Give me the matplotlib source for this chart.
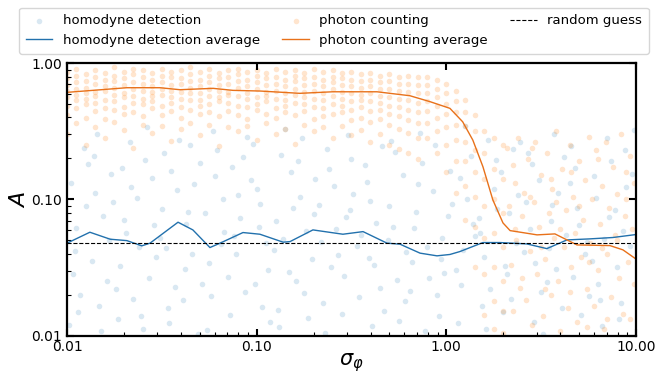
import numpy as np
import matplotlib
matplotlib.use("Agg")
import matplotlib.pyplot as plt
from matplotlib.ticker import FormatStrFormatter

# ---- data (log10 of sigma_phi and A) ----
# homodyne detection scatter cloud
hd_lx = [-1.99, -1.97, -1.95, -1.98, -1.93, -1.91, -1.96, -1.90, -1.94, -1.89,
         -1.87, -1.85, -1.83, -1.86, -1.81, -1.79, -1.84, -1.78, -1.82, -1.77,
         -1.74, -1.76, -1.71, -1.73, -1.69, -1.67, -1.72, -1.66, -1.70, -1.65,
         -1.63, -1.61, -1.59, -1.62, -1.57, -1.55, -1.60, -1.54, -1.58, -1.53,
         -1.51, -1.49, -1.46, -1.50, -1.45, -1.43, -1.48, -1.42, -1.47, -1.41,
         -1.39, -1.37, -1.35, -1.38, -1.33, -1.31, -1.36, -1.30, -1.34, -1.29,
         -1.27, -1.25, -1.22, -1.26, -1.21, -1.19, -1.24, -1.18, -1.23, -1.17,
         -1.15, -1.13, -1.11, -1.14, -1.09, -1.07, -1.12, -1.06, -1.10, -1.05,
         -1.03, -1.01, -0.98, -1.02, -0.97, -0.95, -1.00, -0.94, -0.99, -0.93,
         -0.91, -0.89, -0.87, -0.90, -0.85, -0.83, -0.88, -0.82, -0.86, -0.81,
         -0.79, -0.77, -0.74, -0.78, -0.73, -0.71, -0.76, -0.70, -0.75, -0.69,
         -0.67, -0.65, -0.63, -0.66, -0.61, -0.59, -0.64, -0.58, -0.62, -0.57,
         -0.55, -0.53, -0.50, -0.54, -0.49, -0.47, -0.52, -0.46, -0.51, -0.45,
         -0.43, -0.41, -0.39, -0.42, -0.37, -0.35, -0.40, -0.34, -0.38, -0.33,
         -0.31, -0.29, -0.26, -0.30, -0.25, -0.23, -0.28, -0.22, -0.27, -0.21,
         -0.19, -0.17, -0.15, -0.18, -0.13, -0.11, -0.16, -0.10, -0.14, -0.09,
         -0.07, -0.05, -0.02, -0.06, -0.01, 0.01, -0.04, 0.02, -0.03, 0.03,
         0.05, 0.07, 0.09, 0.06, 0.11, 0.13, 0.08, 0.14, 0.10, 0.15,
         0.17, 0.19, 0.22, 0.18, 0.23, 0.25, 0.20, 0.26, 0.21, 0.27,
         0.29, 0.31, 0.33, 0.30, 0.35, 0.37, 0.32, 0.38, 0.34, 0.39,
         0.41, 0.43, 0.46, 0.42, 0.47, 0.49, 0.44, 0.50, 0.45, 0.51,
         0.53, 0.55, 0.57, 0.54, 0.59, 0.61, 0.56, 0.62, 0.58, 0.63,
         0.65, 0.67, 0.70, 0.66, 0.71, 0.73, 0.68, 0.74, 0.69, 0.75,
         0.77, 0.79, 0.81, 0.78, 0.83, 0.85, 0.80, 0.86, 0.82, 0.87,
         0.89, 0.91, 0.94, 0.90, 0.95, 0.97, 0.92, 0.98, 0.93, 0.99]
hd_ly = [-1.92, -1.55, -1.21, -0.88, -1.70, -0.62, -1.38, -1.05, -1.83, -0.74,
         -1.45, -0.95, -1.78, -0.68, -1.12, -1.60, -0.52, -1.30, -1.97, -0.81,
         -1.66, -1.02, -0.77, -1.88, -1.25, -0.58, -1.49, -0.91, -1.15, -1.73,
         -0.99, -1.86, -0.71, -1.35, -1.58, -0.84, -1.95, -1.19, -0.47, -1.42,
         -1.28, -0.66, -1.91, -1.07, -0.79, -1.64, -1.36, -0.93, -1.80, -0.56,
         -1.74, -1.18, -0.60, -1.51, -0.89, -1.99, -1.09, -0.73, -1.40, -1.62,
         -1.10, -1.47, -0.83, -1.96, -0.64, -1.33, -1.71, -1.00, -0.50, -1.24,
         -1.57, -0.76, -1.40, -1.85, -1.14, -0.69, -1.27, -1.68, -0.97, -0.54,
         -0.86, -1.62, -1.03, -0.59, -1.79, -1.32, -0.92, -1.52, -1.20, -1.90,
         -1.37, -1.81, -0.67, -1.16, -0.48, -1.53, -1.94, -0.80, -1.29, -1.06,
         -1.60, -0.98, -1.23, -0.72, -1.87, -1.44, -0.55, -1.11, -1.69, -0.85,
         -1.04, -1.76, -0.63, -1.31, -1.50, -0.90, -1.98, -1.22, -0.78, -1.41,
         -1.84, -1.13, -0.70, -1.56, -0.96, -1.34, -0.53, -1.72, -1.08, -1.26,
         -0.75, -1.43, -1.93, -0.87, -1.17, -1.65, -1.01, -0.61, -1.48, -1.82,
         -1.30, -0.57, -1.59, -1.05, -1.89, -0.82, -1.20, -1.75, -0.65, -1.39,
         -1.67, -1.21, -0.89, -1.46, -0.73, -1.97, -1.09, -1.35, -0.51, -1.58,
         -0.94, -1.70, -1.28, -0.60, -1.54, -1.12, -1.86, -0.79, -1.44, -1.03,
         -1.52, -0.84, -1.37, -1.91, -1.00, -0.68, -1.63, -1.18, -0.46, -1.27,
         -1.14, -1.78, -0.56, -1.25, -1.66, -0.92, -1.42, -0.71, -1.95, -1.07,
         -0.80, -1.49, -1.10, -1.83, -0.63, -1.32, -1.55, -0.97, -1.73, -0.58,
         -1.39, -0.66, -1.90, -1.02, -1.47, -0.86, -1.22, -1.68, -0.74, -1.99,
         -1.61, -1.16, -0.52, -1.36, -0.95, -1.80, -1.04, -0.69, -1.51, -1.26,
         -0.88, -1.57, -1.19, -0.61, -1.85, -1.40, -0.77, -1.31, -1.06, -1.71,
         -1.45, -0.99, -1.74, -0.83, -1.29, -0.55, -1.62, -1.13, -1.93, -0.72,
         -1.08, -1.88, -0.64, -1.50, -0.91, -1.34, -1.76, -0.81, -1.23, -0.49]

# photon counting scatter: dense band (columns of samples) for small sigma_phi
pc_band_lx = [-2.00, -1.95, -1.90, -1.85, -1.80, -1.75, -1.70, -1.65, -1.60, -1.55,
              -1.50, -1.45, -1.40, -1.35, -1.30, -1.25, -1.20, -1.15, -1.10, -1.05,
              -1.00, -0.95, -0.90, -0.85, -0.80, -0.75, -0.70, -0.65, -0.60, -0.55,
              -0.50, -0.45, -0.40, -0.35, -0.30, -0.25, -0.20, -0.15]
pc_band_ly = [
    [-0.06, -0.11, -0.16, -0.20, -0.25, -0.31, -0.38, -0.52],
    [-0.04, -0.09, -0.14, -0.19, -0.23, -0.27, -0.33, -0.44],
    [-0.08, -0.13, -0.18, -0.22, -0.26, -0.30, -0.40, -0.60],
    [-0.05, -0.10, -0.15, -0.21, -0.24, -0.29, -0.35, -0.47],
    [-0.07, -0.12, -0.17, -0.20, -0.27, -0.33, -0.41, -0.55],
    [-0.03, -0.09, -0.13, -0.18, -0.23, -0.28, -0.34, -0.43],
    [-0.06, -0.11, -0.16, -0.22, -0.25, -0.32, -0.37, -0.49],
    [-0.04, -0.08, -0.14, -0.19, -0.24, -0.29, -0.36, -0.62],
    [-0.05, -0.10, -0.15, -0.20, -0.26, -0.30, -0.39, -0.45],
    [-0.07, -0.12, -0.17, -0.21, -0.24, -0.28, -0.33, -0.51],
    [-0.04, -0.09, -0.14, -0.19, -0.23, -0.31, -0.38, -0.46],
    [-0.06, -0.10, -0.16, -0.20, -0.25, -0.29, -0.35, -0.57],
    [-0.05, -0.11, -0.15, -0.21, -0.26, -0.32, -0.40, -0.48],
    [-0.03, -0.08, -0.13, -0.18, -0.22, -0.27, -0.34, -0.44],
    [-0.06, -0.12, -0.17, -0.22, -0.27, -0.31, -0.37, -0.53],
    [-0.04, -0.09, -0.14, -0.19, -0.24, -0.30, -0.36, -0.45],
    [-0.07, -0.11, -0.16, -0.20, -0.25, -0.28, -0.39, -0.61],
    [-0.05, -0.10, -0.15, -0.21, -0.23, -0.29, -0.35, -0.47],
    [-0.04, -0.08, -0.13, -0.18, -0.24, -0.31, -0.38, -0.50],
    [-0.06, -0.12, -0.17, -0.22, -0.26, -0.32, -0.41, -0.46],
    [-0.05, -0.09, -0.14, -0.19, -0.25, -0.30, -0.34, -0.56],
    [-0.07, -0.11, -0.16, -0.21, -0.24, -0.28, -0.37, -0.44],
    [-0.04, -0.10, -0.15, -0.20, -0.26, -0.33, -0.40, -0.52],
    [-0.06, -0.12, -0.17, -0.22, -0.27, -0.31, -0.36, -0.48],
    [-0.05, -0.09, -0.13, -0.19, -0.23, -0.29, -0.38, -0.59],
    [-0.07, -0.11, -0.16, -0.21, -0.25, -0.30, -0.35, -0.45],
    [-0.04, -0.10, -0.15, -0.20, -0.26, -0.32, -0.41, -0.50],
    [-0.06, -0.12, -0.17, -0.22, -0.27, -0.33, -0.39, -0.47],
    [-0.05, -0.10, -0.14, -0.19, -0.24, -0.30, -0.37, -0.55],
    [-0.07, -0.11, -0.16, -0.21, -0.26, -0.31, -0.36, -0.46],
    [-0.06, -0.12, -0.17, -0.22, -0.28, -0.34, -0.42, -0.53],
    [-0.08, -0.13, -0.18, -0.23, -0.27, -0.32, -0.40, -0.49],
    [-0.07, -0.12, -0.17, -0.22, -0.28, -0.35, -0.43, -0.58],
    [-0.09, -0.14, -0.19, -0.24, -0.29, -0.34, -0.41, -0.52],
    [-0.08, -0.13, -0.19, -0.25, -0.31, -0.37, -0.45, -0.60],
    [-0.10, -0.15, -0.20, -0.26, -0.32, -0.39, -0.48, -0.63],
    [-0.09, -0.15, -0.21, -0.27, -0.34, -0.42, -0.51, -0.66],
    [-0.10, -0.16, -0.22, -0.29, -0.36, -0.44, -0.55, -0.70],
]
# photon counting scatter: the drop around sigma_phi ~ 1
pc_drop_lx = [-0.10, -0.05, 0.00, 0.05, 0.10, 0.15, 0.20, 0.25, 0.30]
pc_drop_ly = [
    [-0.10, -0.16, -0.22, -0.28, -0.35, -0.44, -0.55],
    [-0.12, -0.19, -0.25, -0.31, -0.40, -0.50, -0.66],
    [-0.15, -0.22, -0.30, -0.37, -0.47, -0.60, -0.80],
    [-0.20, -0.28, -0.36, -0.45, -0.56, -0.72, -0.95],
    [-0.27, -0.36, -0.46, -0.58, -0.72, -0.90, -1.15],
    [-0.38, -0.50, -0.64, -0.80, -0.98, -1.20, -1.50],
    [-0.50, -0.66, -0.85, -1.05, -1.28, -1.55, -1.85],
    [-0.55, -0.78, -1.00, -1.25, -1.50, -1.75, -1.95],
    [-0.60, -0.85, -1.10, -1.35, -1.60, -1.82, -1.98],
]
# photon counting scatter: spread out for large sigma_phi
pc_tail_lx = [0.32, 0.33, 0.34, 0.35, 0.36, 0.37, 0.38, 0.39, 0.40, 0.41,
              0.42, 0.43, 0.44, 0.45, 0.46, 0.47, 0.48, 0.49, 0.50, 0.51,
              0.52, 0.53, 0.54, 0.55, 0.56, 0.57, 0.58, 0.59, 0.60, 0.61,
              0.62, 0.63, 0.64, 0.65, 0.66, 0.67, 0.68, 0.69, 0.70, 0.71,
              0.72, 0.73, 0.74, 0.75, 0.76, 0.77, 0.78, 0.79, 0.80, 0.81,
              0.82, 0.83, 0.84, 0.85, 0.86, 0.87, 0.88, 0.89, 0.90, 0.91,
              0.92, 0.93, 0.94, 0.95, 0.96, 0.97, 0.98, 0.99, 0.99, 0.97,
              0.35, 0.40, 0.45, 0.50, 0.55, 0.60, 0.65, 0.70, 0.75, 0.80,
              0.85, 0.90, 0.95, 0.36, 0.44, 0.52, 0.58, 0.66, 0.74, 0.82]
pc_tail_ly = [-0.62, -1.05, -1.48, -1.82, -0.88, -1.30, -0.55, -1.65, -1.12, -0.95,
              -1.74, -0.70, -1.38, -1.92, -1.02, -0.58, -1.55, -1.20, -0.82, -1.86,
              -1.44, -0.66, -1.10, -1.70, -0.92, -1.28, -0.50, -1.60, -1.97, -0.78,
              -1.35, -1.08, -1.80, -0.60, -1.50, -0.98, -1.25, -1.90, -0.72, -1.42,
              -1.15, -0.86, -1.66, -0.54, -1.32, -1.00, -1.78, -0.64, -1.52, -1.18,
              -0.90, -1.95, -0.58, -1.40, -1.06, -1.72, -0.76, -1.26, -0.96, -1.58,
              -0.52, -1.84, -1.12, -0.80, -1.46, -0.68, -1.22, -1.62, -0.88, -1.88,
              -0.75, -1.58, -0.62, -1.35, -0.85, -1.22, -1.68, -1.05, -1.46, -0.70,
              -1.88, -1.30, -1.00, -1.22, -0.98, -1.66, -1.02, -0.80, -1.94, -1.36]

# averages
hd_avg_x = [0.0100, 0.0132, 0.0169, 0.0207, 0.0248, 0.0274, 0.0385, 0.0461,
            0.0567, 0.0641, 0.0847, 0.104, 0.138, 0.150, 0.198, 0.285, 0.364,
            0.487, 0.570, 0.727, 0.893, 1.045, 1.18, 1.56, 1.92, 2.66, 3.39,
            4.33, 5.72, 7.56, 10.0]
hd_avg_y = [0.0477, 0.0574, 0.0510, 0.0498, 0.0456, 0.0477, 0.0680, 0.0597,
            0.0443, 0.0477, 0.0571, 0.0555, 0.0485, 0.0490, 0.0597, 0.0555, 0.0580,
            0.0477, 0.0469, 0.0403, 0.0385, 0.0394, 0.0414, 0.0482, 0.0482, 0.0471,
            0.0435, 0.0504, 0.0513, 0.0525, 0.0552]
pc_avg_x = [0.0100, 0.0207, 0.0309, 0.0394, 0.0589, 0.0750, 0.104, 0.169,
            0.252, 0.431, 0.643, 0.820, 1.045, 1.22, 1.38, 1.56, 1.76, 1.99,
            2.17, 2.54, 3.01, 3.74, 4.33, 4.89, 7.29, 8.54, 10.0]
pc_avg_y = [0.612, 0.662, 0.662, 0.640, 0.655, 0.633, 0.626, 0.602,
            0.618, 0.618, 0.578, 0.523, 0.467, 0.372, 0.273, 0.174, 0.0992, 0.0672,
            0.0590, 0.0570, 0.0549, 0.0558, 0.0504, 0.0463, 0.0458, 0.0426, 0.0365]
random_guess = 1 / 21

# flatten the photon counting cloud
pc_lx = [x for x, col in zip(pc_band_lx, pc_band_ly) for _ in col]
pc_ly = [y for col in pc_band_ly for y in col]
pc_lx += [x for x, col in zip(pc_drop_lx, pc_drop_ly) for _ in col]
pc_ly += [y for col in pc_drop_ly for y in col]
pc_lx += pc_tail_lx
pc_ly += pc_tail_ly

blue = "#1f77b4"
orange = "#ff7f0e"

fig = plt.figure(figsize=(6.68, 3.73), dpi=100)
ax = fig.add_axes([0.1003, 0.1005, 0.8517, 0.7297])

h1 = ax.scatter(10 ** np.array(hd_lx), 10 ** np.array(hd_ly), s=16, color=blue,
                alpha=0.17, linewidths=0, label="homodyne detection")
h3 = ax.scatter(10 ** np.array(pc_lx), 10 ** np.array(pc_ly), s=16, color=orange,
                alpha=0.2, linewidths=0, label="photon counting")
h2, = ax.plot(hd_avg_x, hd_avg_y, color="#2271ad", lw=1.0,
              label="homodyne detection average")
h4, = ax.plot(pc_avg_x, pc_avg_y, color="#e8711a", lw=1.0,
              label="photon counting average")
h5 = ax.axhline(random_guess, color="black", ls="--", lw=0.8, label="random guess")

ax.set_xscale("log")
ax.set_yscale("log")
ax.set_xlim(0.01, 10)
ax.set_ylim(0.01, 1)
ax.xaxis.set_major_formatter(FormatStrFormatter("%.2f"))
ax.yaxis.set_major_formatter(FormatStrFormatter("%.2f"))
ax.xaxis.set_minor_formatter(plt.NullFormatter())
ax.yaxis.set_minor_formatter(plt.NullFormatter())
ax.tick_params(which="major", direction="in", length=5, width=1.5, labelsize=10,
               top=True, right=True)
ax.tick_params(which="minor", direction="in", length=3, width=0.8,
               top=False, right=False)
for sp in ax.spines.values():
    sp.set_linewidth(1.6)

ax.set_xlabel(r"$\sigma_\varphi$", fontsize=15, labelpad=-2)
ax.set_ylabel(r"$A$", fontsize=16, labelpad=2)

fig.legend([h1, h2, h3, h4, h5],
           ["homodyne detection", "homodyne detection average", "photon counting",
            "photon counting average", "random guess"],
           ncol=3, loc="upper center", bbox_to_anchor=(0.5, 0.979), fontsize=9.5,
           frameon=True, columnspacing=1.7, handletextpad=0.8, borderpad=0.5,
           labelspacing=0.5, borderaxespad=0)

fig.savefig("out.png", dpi=100)
